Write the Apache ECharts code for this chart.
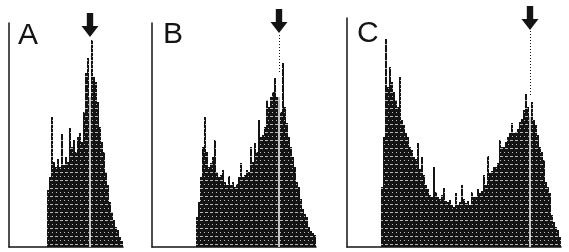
<!DOCTYPE html>
<html><head><meta charset="utf-8">
<script src="https://cdn.jsdelivr.net/npm/echarts@6/dist/echarts.min.js"></script>
<style>html,body{margin:0;padding:0;background:#fff}#c{width:569px;height:252px}</style>
</head><body><div id="c"></div>
<script>
// Histogram counts per channel (relative heights), leading zeros = empty channels
const countsA = [0,0,0,0,0,0,0,0,0,0,0,0,0,0,0,0,0,0,0,
  57,70,130,85,80,88,80,113,82,90,85,119,100,107,95,110,114,105,135,174,189,150,207,170,165,145,120,105,95,75,62,45,35,27,20,17,10,6];
const countsB = [0,0,0,0,0,0,0,0,0,0,0,0,0,0,0,0,0,0,0,0,0,0,
  30,45,70,100,130,95,80,84,90,107,75,70,72,77,65,62,71,62,65,60,63,70,84,70,72,77,75,100,85,104,95,127,110,112,120,147,140,150,155,169,150,150,135,184,140,124,110,100,90,80,65,60,48,38,33,30,20,16,14,12];
const countsC = [0,0,0,0,0,0,0,0,0,0,0,0,0,0,0,0,0,
  60,110,208,160,180,165,155,147,140,170,127,122,114,110,100,97,90,88,104,78,90,72,62,58,52,50,80,55,50,48,52,59,46,45,47,42,40,54,42,45,62,48,44,46,42,55,50,50,58,54,56,72,62,91,74,76,80,80,84,107,100,100,105,110,114,124,114,115,118,125,128,137,153,140,130,145,127,122,112,100,95,87,65,60,54,32,25,20,17,10];
const panelLabels = ['A', 'B', 'C'];
// marked channel (arrow) per panel, and the top of its dotted guide
const markChannel = [40, 63, 91];
const guideTop = [187, 175, 152];
const guideEnd = [187, 214, 218];

const counts = [countsA, countsB, countsC];
const grids = [
  {left: 9, top: 23, width: 114, height: 224},
  {left: 152, top: 23, width: 164, height: 224},
  {left: 347, top: 18, width: 214, height: 229}
];
const maxV = [224, 224, 229];
const arrowShift = [2, -2, 0];
const ink = '#141414';
const arrowPath = 'path://M5,0 L11,0 L11,13 L16,13 L8,24 L0,13 L5,13 Z';
const labelPos = [[18, 21], [163, 19.5], [357, 18.5]];

const option = {
  animation: false,
  backgroundColor: '#fff',
  title: panelLabels.map((t, i) => ({
    text: t, left: labelPos[i][0], top: labelPos[i][1], padding: 0,
    textStyle: {fontFamily: 'Liberation Sans, Arial, sans-serif', fontSize: 30, fontWeight: 'normal', color: ink}
  })),
  grid: grids,
  xAxis: counts.map((c, i) => ({
    type: 'category', gridIndex: i,
    data: c.map((_, k) => String(k)),
    axisLine: {show: true, lineStyle: {color: ink, width: 1.5}},
    axisTick: {show: false}, axisLabel: {show: false}, splitLine: {show: false}
  })),
  yAxis: counts.map((c, i) => ({
    type: 'value', gridIndex: i, min: 0, max: maxV[i],
    axisLine: {show: true, lineStyle: {color: ink, width: 1.5}},
    axisTick: {show: false}, axisLabel: {show: false}, splitLine: {show: false}
  })),
  series: counts.map((c, i) => ({
    type: 'bar', xAxisIndex: i, yAxisIndex: i,
    data: c, barCategoryGap: '0%', barGap: '0%',
    itemStyle: {
      color: ink,
      decal: {symbol: 'rect', symbolSize: 1, color: 'rgba(255,255,255,0.7)',
              dashArrayX: [[3, 2], [1, 3]], dashArrayY: [1, 3], rotation: 0}
    },
    silent: true,
    markLine: {
      silent: true, symbol: 'none', animation: false,
      label: {show: false},
      data: [
        [{coord: [String(markChannel[i]), 0], lineStyle: {color: '#fff', width: 1.5, type: 'solid'}},
         {coord: [String(markChannel[i]), guideTop[i]]}],
        [{coord: [String(markChannel[i]), guideTop[i]], lineStyle: {color: ink, width: 1, type: [1, 2]}},
         {coord: [String(markChannel[i]), guideEnd[i]]}]
      ]
    },
    markPoint: {
      silent: true, animation: false,
      symbol: arrowPath, symbolSize: [17, 24], label: {show: false},
      itemStyle: {color: ink},
      data: [{coord: [String(markChannel[i]), maxV[i]], symbolOffset: [0, arrowShift[i]]}]
    }
  }))
};
const chart = echarts.init(document.getElementById('c'), null, {renderer: 'canvas'});
chart.setOption(option);
</script></body></html>
